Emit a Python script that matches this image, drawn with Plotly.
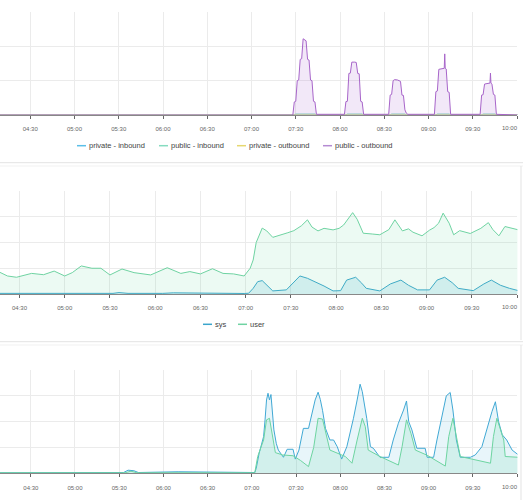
import plotly.graph_objects as go

DAY = "2024-01-01 "

tick_labels = ["04:30", "05:00", "05:30", "06:00", "06:30", "07:00", "07:30",
               "08:00", "08:30", "09:00", "09:30", "10:00"]

# ---------------- Panel 1 : network ----------------
net_zero_time = ["04:09", "10:01"]
private_inbound = [0, 0]
private_outbound = [0, 0]

public_inbound_time = ["04:09", "07:29", "07:30", "07:43", "07:44", "08:04", "08:05", "08:15",
                       "08:16", "08:34", "08:35", "08:44", "08:45", "09:05", "09:06", "09:14",
                       "09:15", "09:36", "09:37", "09:45", "09:46", "10:01"]
public_inbound = [0.0, 0.0, 0.03, 0.03, 0.0, 0.0, 0.03, 0.03,
                  0.0, 0.0, 0.03, 0.03, 0.0, 0.0, 0.03, 0.03,
                  0.0, 0.0, 0.03, 0.03, 0.0, 0.0]

public_outbound_time = [
    "04:09", "07:28",
    "07:29", "07:30", "07:31", "07:32", "07:33", "07:34", "07:35", "07:36", "07:37", "07:38",
    "07:39", "07:40", "07:41", "07:42", "07:43", "07:44",
    "08:03", "08:04", "08:05", "08:06", "08:07", "08:08", "08:09", "08:10", "08:11", "08:12",
    "08:13", "08:14", "08:15", "08:16",
    "08:33", "08:34", "08:35", "08:36", "08:37", "08:38", "08:39", "08:40", "08:41", "08:42",
    "08:43", "08:44", "08:45", "08:46",
    "09:04", "09:05", "09:06", "09:07", "09:08", "09:09", "09:10", "09:10:40", "09:11",
    "09:11:20", "09:12", "09:13", "09:14", "09:15",
    "09:35", "09:36", "09:37", "09:38", "09:39", "09:40", "09:41", "09:41:40", "09:42",
    "09:42:20", "09:43", "09:44", "09:45", "09:46",
    "10:01"]
public_outbound = [
    0.0, 0.0,
    0.38, 0.40, 1.00, 1.02, 1.62, 1.64, 2.22, 2.20, 2.16, 1.62,
    1.60, 1.02, 1.00, 0.40, 0.38, 0.02,
    0.02, 0.39, 0.40, 1.21, 1.22, 1.54, 1.55, 1.54, 1.53, 1.21,
    1.20, 0.40, 0.38, 0.02,
    0.02, 0.58, 0.60, 1.00, 1.03, 1.03, 1.02, 1.00, 0.98, 0.58,
    0.57, 0.15, 0.05, 0.02,
    0.02, 0.68, 0.70, 1.33, 1.34, 1.34, 1.35, 1.36, 1.78,
    1.36, 1.34, 0.68, 0.66, 0.02,
    0.02, 0.58, 0.59, 0.90, 0.91, 0.92, 0.92, 0.93, 1.22,
    0.93, 0.90, 0.60, 0.58, 0.02,
    0.0]

# ---------------- Panel 2 : cpu ----------------
user_time = ["04:16", "04:22", "04:28", "04:33", "04:38", "04:46", "04:53", "05:00", "05:05",
             "05:11", "05:18", "05:24", "05:30", "05:38", "05:46", "05:57", "06:08", "06:17",
             "06:23", "06:30", "06:38", "06:45", "06:52", "06:59", "07:03", "07:05", "07:07",
             "07:11", "07:14", "07:18", "07:21", "07:25", "07:28", "07:32", "07:37", "07:41",
             "07:44", "07:48", "07:52", "07:58", "08:02", "08:05", "08:08", "08:11", "08:14",
             "08:18", "08:24", "08:29", "08:35", "08:39", "08:44", "08:48", "08:51", "08:57",
             "09:02", "09:05", "09:08", "09:11", "09:15", "09:18", "09:22", "09:29", "09:36",
             "09:41", "09:44", "09:48", "09:52", "09:56", "10:01"]
user = [17.4, 14.0, 13.0, 14.6, 16.0, 15.0, 17.8, 14.0, 16.6,
        21.8, 20.0, 20.0, 14.8, 19.4, 16.6, 14.8, 20.4, 16.0,
        17.4, 15.6, 19.6, 16.0, 15.6, 14.0, 20.0, 26.4, 40.0,
        51.2, 49.0, 44.0, 45.0, 46.0, 47.6, 49.2, 53.0, 57.6,
        52.0, 49.0, 51.0, 49.8, 51.0, 53.6, 58.0, 63.2, 58.0,
        47.2, 46.6, 46.0, 50.0, 57.6, 49.0, 50.6, 48.0, 45.2,
        49.6, 51.6, 55.0, 62.8, 55.0, 46.0, 49.2, 47.0, 51.0,
        55.4, 50.0, 45.2, 52.4, 51.0, 49.8]

sys_time = ["04:16", "05:00", "05:32", "05:36", "05:42", "06:05", "06:12", "06:59", "07:02",
            "07:05", "07:08", "07:11", "07:14", "07:18", "07:27", "07:32", "07:36", "07:41",
            "07:46", "07:52", "07:58", "08:03", "08:07", "08:13", "08:17", "08:20", "08:29",
            "08:36", "08:43", "08:48", "08:54", "09:02", "09:07", "09:12", "09:17", "09:21",
            "09:31", "09:38", "09:43", "09:49", "09:55", "10:01"]
sys = [0.5, 0.3, 0.5, 1.1, 0.5, 0.5, 0.9, 0.4, 0.6,
       4.4, 9.6, 10.4, 7.0, 2.4, 3.2, 8.8, 14.0, 12.2,
       9.6, 6.2, 2.4, 2.6, 10.8, 13.0, 8.4, 4.4, 2.4,
       7.8, 10.8, 6.8, 3.2, 3.2, 10.8, 13.0, 8.8, 4.4,
       2.6, 7.8, 10.8, 6.8, 4.4, 2.6]

# ---------------- Panel 3 : load ----------------
blue_time = ["04:08", "05:33", "05:36", "05:40", "05:43", "06:00", "06:10", "07:02", "07:03",
             "07:05", "07:08", "07:09", "07:10", "07:11", "07:12", "07:13", "07:14", "07:15",
             "07:16:36", "07:18", "07:21:30", "07:24", "07:28", "07:29:30", "07:32", "07:35",
             "07:38:30", "07:41", "07:43", "07:45", "07:46:30", "07:48", "07:50", "07:53",
             "07:55:30", "07:58", "08:01", "08:04:30", "08:07", "08:09", "08:11:30", "08:13:30",
             "08:15", "08:18", "08:20:30", "08:22:30", "08:27", "08:33", "08:36", "08:39:30",
             "08:43", "08:45", "08:46:30", "08:48:40", "08:52", "08:57:40", "08:59", "09:03:24",
             "09:05:40", "09:09", "09:12", "09:14:40", "09:16:30", "09:18:50", "09:21:30",
             "09:28:20", "09:31:40", "09:36:10", "09:39:40", "09:43", "09:45:20", "09:47:30",
             "09:50", "09:53", "09:56:40", "10:01"]
blue = [0.02, 0.03, 0.12, 0.10, 0.03, 0.05, 0.06, 0.03, 0.19,
        0.78, 1.42, 2.07, 2.84, 3.10, 2.84, 3.05, 2.39, 1.68,
        1.16, 0.90, 0.62, 0.93, 0.93, 0.55, 0.90, 1.74,
        1.74, 2.39, 2.84, 3.14, 2.86, 2.44, 1.74, 1.29,
        1.29, 1.03, 0.55, 1.03, 1.61, 2.13, 2.84, 3.45,
        3.16, 2.13, 1.03, 0.97, 0.62, 0.62, 1.29, 1.94,
        2.45, 2.80, 2.00, 1.68, 0.97, 0.97, 0.62, 0.62,
        1.29, 2.19, 3.00, 3.13, 2.45, 1.29, 0.62,
        0.62, 0.71, 1.03, 1.74, 2.39, 2.77, 2.00,
        1.49, 1.29, 0.90, 0.71]

green_time = ["04:08", "05:34", "05:38", "05:42", "07:02", "07:04", "07:08", "07:10", "07:12",
              "07:14", "07:16", "07:21", "07:28", "07:33", "07:38:30", "07:42", "07:45", "07:48",
              "07:50", "07:53", "08:03:30", "08:08", "08:11:30", "08:15", "08:17", "08:19",
              "08:27", "08:39:30", "08:42", "08:45", "08:48", "08:51", "08:59", "09:11:20",
              "09:13:40", "09:16:30", "09:19:20", "09:21:30", "09:42", "09:44", "09:46:20",
              "09:48:40", "09:51", "09:52", "10:01"]
green = [0.02, 0.02, 0.08, 0.02, 0.02, 0.65, 1.29, 2.07, 2.13,
         1.40, 0.80, 0.71, 0.68, 0.50, 0.26, 1.00, 2.13, 2.10,
         1.60, 0.90, 0.65, 0.39, 1.29, 2.13, 1.81, 0.90,
         0.65, 0.32, 1.03, 2.07, 1.55, 0.90, 0.70, 0.28,
         1.42, 2.13, 1.29, 0.65, 0.39, 1.42, 2.13,
         1.74, 1.29, 0.65, 0.62]

# legend entries (label, colour)
net_legend = [("private - inbound", "#5bbfe8"), ("public - inbound", "#86dcc0"),
              ("private - outbound", "#e6d870"), ("public - outbound", "#b58bd3")]
cpu_legend = [("sys", "#3aa5cc"), ("user", "#6fd3a2")]


def ts(times):
    return [DAY + t for t in times]


fig = go.Figure()


def area(x, y, name, color, fillcolor, xa, ya):
    fig.add_trace(go.Scatter(x=ts(x), y=y, name=name, mode="lines",
                             line=dict(color=color, width=1),
                             fill="tozeroy", fillcolor=fillcolor,
                             xaxis=xa, yaxis=ya, showlegend=False))


# panel 1
area(net_zero_time, private_inbound, "private - inbound", "#5bbfe8", "rgba(91,191,232,0.12)", "x", "y")
area(public_inbound_time, public_inbound, "public - inbound", "#86dcc0", "rgba(134,220,192,0.12)", "x", "y")
area(net_zero_time, private_outbound, "private - outbound", "#e6d870", "rgba(230,216,112,0.12)", "x", "y")
area(public_outbound_time, public_outbound, "public - outbound", "#a765c9", "rgba(175,110,210,0.16)", "x", "y")
# panel 2
area(sys_time, sys, "sys", "#3aa5cc", "rgba(58,175,214,0.16)", "x2", "y2")
area(user_time, user, "user", "#6fd3a2", "rgba(110,220,160,0.13)", "x2", "y2")
# panel 3
area(blue_time, blue, "series 1", "#40a8d4", "rgba(64,175,215,0.12)", "x3", "y3")
area(green_time, green, "series 2", "#6dd4a0", "rgba(100,215,170,0.16)", "x3", "y3")

W, H = 523, 500
xr = 517.4 / W
TICKFONT = dict(family="Liberation Sans", size=6, color="#666")

# the last tick label sits right-aligned against its tick (drawn as an annotation)
shown_ticktext = tick_labels[:-1] + [""]


def xaxis_cfg(start, anchor):
    return dict(domain=[0, xr], anchor=anchor, type="date",
                range=[DAY + start, DAY + "10:00:16"],
                tickvals=ts(tick_labels), ticktext=shown_ticktext,
                ticks="outside", ticklen=3, tickcolor="#666", tickwidth=1,
                showline=True, linecolor="#888", linewidth=1,
                showgrid=True, gridcolor="#ebebeb", gridwidth=1,
                tickfont=TICKFONT,
                ticklabelstandoff=5, automargin=False,
                zeroline=False, fixedrange=True)


def yaxis_cfg(top_px, bottom_px, rng, dtick, anchor):
    return dict(domain=[1 - bottom_px / H, 1 - top_px / H], anchor=anchor,
                range=rng, dtick=dtick, showticklabels=False, ticks="",
                showgrid=True, gridcolor="#ebebeb", gridwidth=1, automargin=False,
                zeroline=False, showline=False, fixedrange=True)


border = "#e3e3e3"
shapes = [
    dict(type="line", xref="paper", yref="paper", x0=0, x1=1,
         y0=1 - 162.7 / H, y1=1 - 162.7 / H, line=dict(color=border, width=1)),
    dict(type="line", xref="paper", yref="paper", x0=0, x1=1,
         y0=1 - 166 / H, y1=1 - 166 / H, line=dict(color="#f1f1f1", width=1)),
    dict(type="line", xref="paper", yref="paper", x0=0, x1=1,
         y0=1 - 341.7 / H, y1=1 - 341.7 / H, line=dict(color=border, width=1)),
    dict(type="line", xref="paper", yref="paper", x0=0, x1=1,
         y0=1 - 345 / H, y1=1 - 345 / H, line=dict(color="#f1f1f1", width=1)),
    dict(type="line", xref="paper", yref="paper", x0=521 / W, x1=521 / W,
         y0=1 - 166 / H, y1=1 - 340 / H, line=dict(color=border, width=1)),
    dict(type="line", xref="paper", yref="paper", x0=521 / W, x1=521 / W,
         y0=1 - 345 / H, y1=0, line=dict(color=border, width=1)),
]
annotations = []

for label_y in (128.3, 307.0, 486.7):
    annotations.append(dict(text=tick_labels[-1], xref="paper", yref="paper",
                            x=517.5 / W, y=1 - label_y / H, xanchor="right", yanchor="middle",
                            showarrow=False, borderpad=0, borderwidth=0, font=TICKFONT))


def add_legend(entries, starts, ypx, text_gap):
    yy = 1 - ypx / H
    for (label, color), sx in zip(entries, starts):
        shapes.append(dict(type="line", xref="paper", yref="paper",
                           x0=sx / W, x1=(sx + 9) / W, y0=yy, y1=yy,
                           line=dict(color=color, width=1.5)))
        annotations.append(dict(text=label, xref="paper", yref="paper",
                                x=(sx + 9 + text_gap) / W, y=yy,
                                xanchor="left", yanchor="middle", showarrow=False,
                                borderpad=0, borderwidth=0,
                                font=dict(family="Liberation Sans", size=7.5, color="#444")))


add_legend(net_legend, [77, 159, 237, 323], 145.7, 3)
add_legend(cpu_legend, [203, 238], 324.3, 3)

fig.update_layout(
    width=W, height=H, autosize=False,
    margin=dict(l=0, r=0, t=0, b=0, pad=0, autoexpand=False),
    paper_bgcolor="white", plot_bgcolor="white",
    xaxis=xaxis_cfg("04:09:28", "y"),
    yaxis=yaxis_cfg(12, 115, [0, 3], 1, "x"),
    xaxis2=xaxis_cfg("04:17:04", "y2"),
    yaxis2=yaxis_cfg(191, 294, [0, 80], 20, "x2"),
    xaxis3=xaxis_cfg("04:09:06", "y3"),
    yaxis3=yaxis_cfg(370, 473.3, [0, 4], 1, "x3"),
    showlegend=False,
    shapes=shapes,
    annotations=annotations,
)

fig.write_html("out.html")
